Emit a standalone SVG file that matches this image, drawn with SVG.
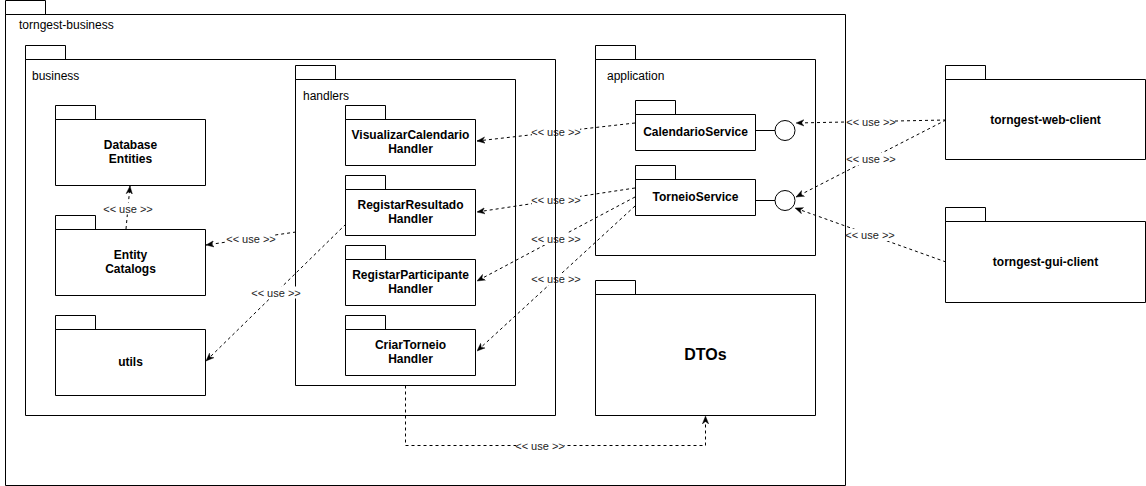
<svg xmlns="http://www.w3.org/2000/svg" width="1146" height="486" viewBox="0 0 1146 486">
<defs>
<style>
.pk{fill:#fff;stroke:#000;stroke-width:1}
.pkn{fill:none;stroke:#000;stroke-width:1}
.lbl{font-family:"Liberation Sans",Arial,Helvetica,sans-serif;font-size:12px;fill:#000}
.nm{font-family:"Liberation Sans",Arial,Helvetica,sans-serif;font-size:12px;font-weight:bold;fill:#000;text-anchor:middle}
.big{font-size:16px}
.edge{fill:none;stroke:#000;stroke-width:1;stroke-dasharray:3 3}
.el{font-family:"Liberation Sans",Arial,Helvetica,sans-serif;font-size:11px;fill:#222;text-anchor:middle}
.elbg{fill:#fff}
.sol{fill:none;stroke:#000;stroke-width:1}
.lol{fill:#fff;stroke:#000;stroke-width:1}
</style>
<marker id="arr" viewBox="0 0 10 10" refX="10" refY="5" markerWidth="8" markerHeight="8" markerUnits="userSpaceOnUse" orient="auto">
<path d="M0,1 L10,5 L0,9 L3,5 Z" fill="#000" stroke="#000" stroke-width="0.5"/>
</marker>
</defs>
<rect width="1146" height="486" fill="#fff"/>

<g id="torngest-business">
<path class="pk" d="M5.5,14.5 V0.5 H45.5 V14.5 Z M5.5,14.5 H845.5 V485.5 H5.5 Z"/>
<text class="lbl" x="19" y="29">torngest-business</text>
</g>

<g id="handlers">
<path class="pk" d="M295.5,79.5 V65.5 H335.5 V79.5 Z M295.5,79.5 H515.5 V385.5 H295.5 Z"/>
<text class="lbl" x="303" y="100">handlers</text>
</g>

<g id="visualizar-calendario-handler">
<path class="pk" d="M345.5,119.5 V105.5 H385.5 V119.5 Z M345.5,119.5 H475.5 V165.5 H345.5 Z"/>
<text class="nm" x="410.5" y="138.5">VisualizarCalendario</text>
<text class="nm" x="410.5" y="152.5">Handler</text>
</g>

<g id="registar-resultado-handler">
<path class="pk" d="M345.5,189.5 V175.5 H385.5 V189.5 Z M345.5,189.5 H475.5 V235.5 H345.5 Z"/>
<text class="nm" x="410.5" y="208.5">RegistarResultado</text>
<text class="nm" x="410.5" y="222.5">Handler</text>
</g>

<g id="registar-participante-handler">
<path class="pk" d="M345.5,259.5 V245.5 H385.5 V259.5 Z M345.5,259.5 H475.5 V305.5 H345.5 Z"/>
<text class="nm" x="410.5" y="278.5">RegistarParticipante</text>
<text class="nm" x="410.5" y="292.5">Handler</text>
</g>

<g id="criar-torneio-handler">
<path class="pk" d="M345.5,329.5 V315.5 H385.5 V329.5 Z M345.5,329.5 H475.5 V375.5 H345.5 Z"/>
<text class="nm" x="410.5" y="348.5">CriarTorneio</text>
<text class="nm" x="410.5" y="362.5">Handler</text>
</g>

<g id="database-entities">
<path class="pk" d="M55.5,119.5 V105.5 H95.5 V119.5 Z M55.5,119.5 H205.5 V185.5 H55.5 Z"/>
<text class="nm" x="130.5" y="148.5">Database</text>
<text class="nm" x="130.5" y="162.5">Entities</text>
</g>

<g id="entity-catalogs">
<path class="pk" d="M55.5,229.5 V215.5 H95.5 V229.5 Z M55.5,229.5 H205.5 V295.5 H55.5 Z"/>
<text class="nm" x="130.5" y="258.5">Entity</text>
<text class="nm" x="130.5" y="272.5">Catalogs</text>
</g>

<g id="utils">
<path class="pk" d="M55.5,329.5 V315.5 H95.5 V329.5 Z M55.5,329.5 H205.5 V395.5 H55.5 Z"/>
<text class="nm" x="130.5" y="366">utils</text>
</g>

<g id="application">
<path class="pk" d="M595.5,59.5 V45.5 H635.5 V59.5 Z M595.5,59.5 H815.5 V255.5 H595.5 Z"/>
<text class="lbl" x="607" y="80">application</text>
</g>

<g id="calendario-service">
<path class="pk" d="M635.5,114.5 V100.5 H675.5 V114.5 Z M635.5,114.5 H755.5 V150.5 H635.5 Z"/>
<text class="nm" x="695.5" y="136">CalendarioService</text>
<line class="sol" x1="755.5" y1="130.5" x2="775" y2="130.5"/>
<circle class="lol" cx="785" cy="130.5" r="10"/>
</g>

<g id="torneio-service">
<path class="pk" d="M635.5,179.5 V165.5 H675.5 V179.5 Z M635.5,179.5 H755.5 V215.5 H635.5 Z"/>
<text class="nm" x="695.5" y="201">TorneioService</text>
<line class="sol" x1="755.5" y1="200.5" x2="775" y2="200.5"/>
<circle class="lol" cx="785" cy="200.5" r="10"/>
</g>

<g id="dtos">
<path class="pk" d="M595.5,294.5 V280.5 H635.5 V294.5 Z M595.5,294.5 H815.5 V415.5 H595.5 Z"/>
<text class="nm big" x="705.5" y="360">DTOs</text>
</g>

<g id="torngest-web-client">
<path class="pk" d="M945.5,79.5 V65.5 H985.5 V79.5 Z M945.5,79.5 H1145.5 V159.5 H945.5 Z"/>
<text class="nm" x="1045.5" y="124">torngest-web-client</text>
</g>

<g id="torngest-gui-client">
<path class="pk" d="M945.5,221.5 V207.5 H985.5 V221.5 Z M945.5,221.5 H1145.5 V302.5 H945.5 Z" stroke="#333"/>
<text class="nm" x="1045.5" y="266">torngest-gui-client</text>
</g>

<g id="connectors">
<path class="edge" d="M635,123 L477,141" marker-end="url(#arr)"/>
<path class="edge" d="M635,188 L477,212" marker-end="url(#arr)"/>
<path class="edge" d="M635,197 L477,281" marker-end="url(#arr)"/>
<path class="edge" d="M635,206 L477,351" marker-end="url(#arr)"/>
<path class="edge" d="M946,120 L796,123" marker-end="url(#arr)"/>
<path class="edge" d="M946,120 L796,197" marker-end="url(#arr)"/>
<path class="edge" d="M946,262 L795,208" marker-end="url(#arr)"/>
<path class="edge" d="M126,229 L130,186" marker-end="url(#arr)"/>
<path class="edge" d="M296,232 L206,245" marker-end="url(#arr)"/>
<path class="edge" d="M346,224 L206,361" marker-end="url(#arr)"/>
<path class="edge" d="M405.5,385.5 V445.5 H705.5 V416" marker-end="url(#arr)"/>
<g>
<rect class="elbg" x="532" y="126" width="48" height="12"/><text class="el" x="556" y="136">&lt;&lt; use &gt;&gt;</text>
<rect class="elbg" x="532" y="194" width="48" height="12"/><text class="el" x="556" y="204">&lt;&lt; use &gt;&gt;</text>
<rect class="elbg" x="532" y="233" width="48" height="12"/><text class="el" x="556" y="243">&lt;&lt; use &gt;&gt;</text>
<rect class="elbg" x="532" y="273" width="48" height="12"/><text class="el" x="556" y="283">&lt;&lt; use &gt;&gt;</text>
<rect class="elbg" x="847" y="115.5" width="48" height="12"/><text class="el" x="871" y="125.5">&lt;&lt; use &gt;&gt;</text>
<rect class="elbg" x="847" y="153" width="48" height="12"/><text class="el" x="871" y="163">&lt;&lt; use &gt;&gt;</text>
<rect class="elbg" x="846" y="229" width="48" height="12"/><text class="el" x="870" y="239">&lt;&lt; use &gt;&gt;</text>
<rect class="elbg" x="104" y="202.5" width="48" height="12"/><text class="el" x="128" y="212.5">&lt;&lt; use &gt;&gt;</text>
<rect class="elbg" x="227" y="232.5" width="48" height="12"/><text class="el" x="251" y="242.5">&lt;&lt; use &gt;&gt;</text>
<rect class="elbg" x="252" y="286.5" width="48" height="12"/><text class="el" x="276" y="296.5">&lt;&lt; use &gt;&gt;</text>
<rect class="elbg" x="516" y="439.5" width="48" height="12"/><text class="el" x="540" y="449.5">&lt;&lt; use &gt;&gt;</text>
</g>
</g>

<g id="business">
<path class="pkn" d="M25.5,59.5 V45.5 H65.5 V59.5 Z M25.5,59.5 H555.5 V415.5 H25.5 Z"/>
<text class="lbl" x="32" y="80">business</text>
</g>
</svg>
